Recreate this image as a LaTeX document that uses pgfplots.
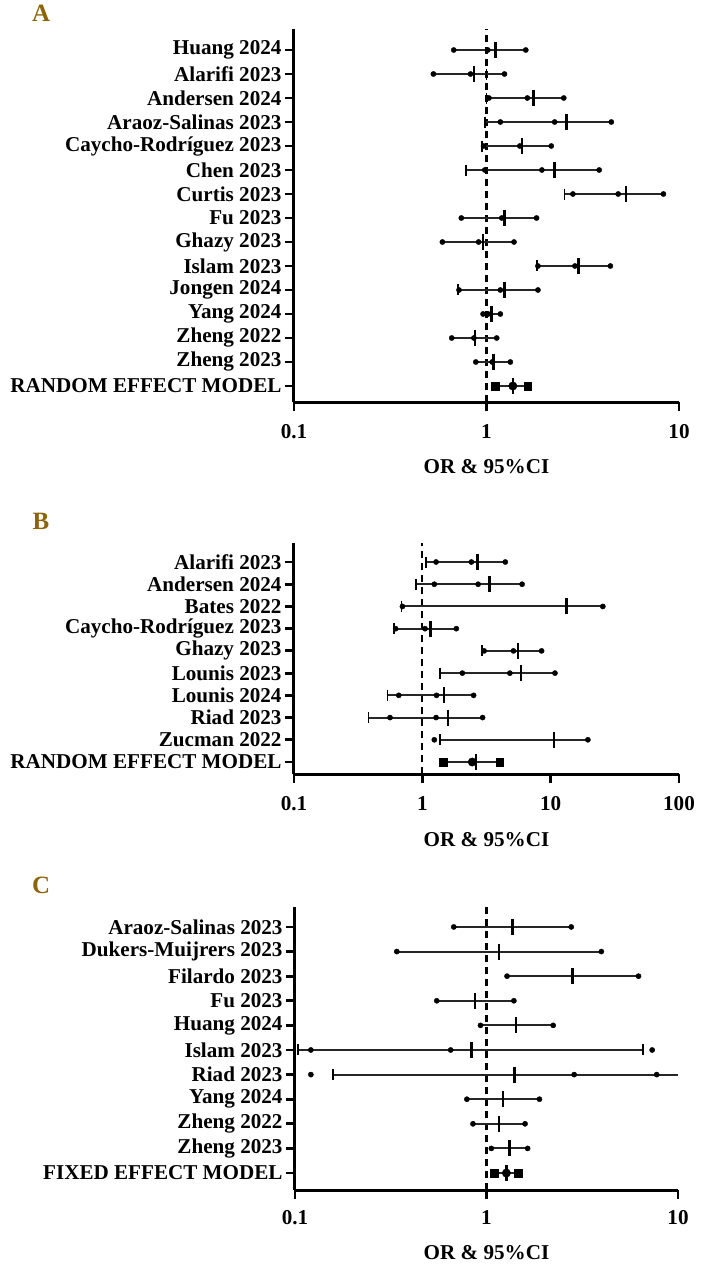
\documentclass[border=0pt]{standalone}
\usepackage{fontspec}
\setmainfont{Liberation Serif}
\usepackage{pgfplots}
\usepackage{pgfplotstable}
\pgfplotsset{compat=1.18}
\definecolor{panel}{RGB}{139,101,8}

% y: row position (top row largest); L,R: line ends; d1,d2,d3: dots; bar: OR mark; cap, cap2: small end caps
\pgfplotstableread{
y  L     R     d1    d2    d3    bar   cap   cap2
15 0.676 1.60  0.676 1.016 1.60  1.115 nan   nan
14 0.53  1.24  0.53  0.826 1.24  0.863 1.0   nan
13 1.0   2.52  1.03  1.63  2.52  1.75  1.0   nan
12 0.98  4.45  1.18  2.26  4.45  2.61  0.98  nan
11 0.95  2.17  0.965 1.49  2.17  1.53  0.95  nan
10 0.78  3.85  0.98  1.94  3.85  2.26  0.78  nan
9  2.54  8.3   2.81  4.83  8.3   5.32  2.54  nan
8  0.74  1.82  0.74  1.2   1.82  1.24  nan   nan
7  0.59  1.39  0.59  0.91  1.39  0.96  nan   nan
6  1.83  4.4   1.85  2.88  4.4   3.01  1.83  nan
5  0.71  1.85  0.72  1.18  1.85  1.24  0.71  nan
4  0.96  1.18  0.96  1.02  1.18  1.06  nan   nan
3  0.66  1.13  0.66  0.86  1.13  0.87  nan   nan
2  0.88  1.33  0.88  1.07  1.33  1.085 nan   nan
1  1.11  1.64  nan   1.37  nan   1.37  nan   nan
}\tabA

\pgfplotstableread{
y  L     R     d1    d2    d3    bar   cap   cap2
10 1.07  4.43  1.28  2.41  4.43  2.68  1.07  nan
9  0.89  5.99  1.24  2.72  5.99  3.33  0.89  nan
8  0.69  25.5  0.70  nan   25.5  13.3  0.69  nan
7  0.60  1.84  0.62  1.05  1.84  1.16  0.60  nan
6  2.9   8.5   3.03  5.13  8.5   5.57  2.9   nan
5  1.38  10.8  2.05  4.81  10.8  5.89  1.38  nan
4  0.535 2.51  0.655 1.29  2.51  1.48  0.535 nan
3  0.38  2.95  0.56  1.28  2.95  1.58  0.38  nan
2  1.38  19.5  1.24  nan   19.5  10.6  1.38  nan
1  1.45  4.0   nan   2.45  nan   2.63  nan   nan
}\tabB

\pgfplotstableread{
y  L     R     d1    d2    d3    bar   cap   cap2
11 0.675 2.77  0.675 nan   2.77  1.37  nan   nan
10 0.34  3.98  0.34  nan   3.98  1.16  nan   nan
9  1.28  6.22  1.28  nan   6.22  2.82  nan   nan
8  0.55  1.39  0.55  nan   1.39  0.87  nan   nan
7  0.93  2.23  0.93  nan   2.23  1.43  nan   nan
6  0.104 6.57  0.121 0.65  7.33  0.835 0.104 6.57
5  0.158 10    0.121 2.87  7.74  1.40  0.158 nan
4  0.79  1.89  0.79  nan   1.89  1.22  nan   nan
3  0.85  1.59  0.85  nan   1.59  1.16  nan   nan
2  1.06  1.64  1.06  nan   1.64  1.32  nan   nan
1  1.10  1.46  nan   1.27  nan   1.27  nan   nan
}\tabC

\newcommand\lblfont{\bfseries\fontsize{21.2}{24}\selectfont}

\newcommand\forestdata[1]{%
  \addplot[draw=none, mark=none, forget plot,
    error bars/x dir=both, error bars/x explicit, error bars/error mark=none,
    error bars/error bar style={draw=black!85, line width=2bp, solid}]
    table[x=bar, y=y, x error plus expr=\thisrow{R}-\thisrow{bar}, x error minus expr=\thisrow{bar}-\thisrow{L}] {#1};
  \addplot[only marks, mark=*, mark size=2.6bp, black] table[x=d1, y=y] {#1};
  \addplot[only marks, mark=*, mark size=2.6bp, black] table[x=d2, y=y] {#1};
  \addplot[only marks, mark=*, mark size=2.6bp, black] table[x=d3, y=y] {#1};
  \addplot[only marks, mark=|, mark size=8bp, black, mark options={line width=2.5bp}] table[x=bar, y=y] {#1};
  \addplot[only marks, mark=|, mark size=5.5bp, black, mark options={line width=1.7bp}] table[x=cap, y=y] {#1};
  \addplot[only marks, mark=|, mark size=5.5bp, black, mark options={line width=1.7bp}] table[x=cap2, y=y] {#1};
}

\begin{document}
\begin{tikzpicture}
\path[use as bounding box] (0,0) rectangle (710bp,-1274bp);

% ---------------- Panel A ----------------
\node[text=panel, font=\bfseries\fontsize{25}{25}\selectfont] at (41bp,-13bp) {A};
\begin{axis}[xmode=log, scale only axis, clip=false,
  axis x line*=bottom, axis y line*=left,
  x axis line style={-}, y axis line style={-},
  axis line style={line width=3bp, black},
  tick style={line width=2.8bp, black},
  tick align=outside, major tick length=9bp,
  xminorticks=false, yminorticks=false,
  xticklabel style={font=\lblfont, yshift=-10bp},
  yticklabel style={font=\lblfont},
  xlabel={OR \& 95\%CI},
  xlabel style={font=\lblfont, at={(axis description cs:0.5,0)}, anchor=center, yshift=-65bp},
  at={(294bp,-402bp)}, anchor=south west,
  width=385bp, height=373bp, xmin=0.1, xmax=10, ymin=0.333, ymax=15.875,
  xtick={0.1,1,10}, xticklabels={0.1,1,10},
  ytick={1,...,15},
  yticklabels={RANDOM EFFECT MODEL, Zheng 2023, Zheng 2022, Yang 2024, Jongen 2024, Islam 2023, Ghazy 2023, Fu 2023, Curtis 2023, Chen 2023, Caycho-Rodríguez 2023, Araoz-Salinas 2023, Andersen 2024, Alarifi 2023, Huang 2024}]
  \addplot[black, line width=2.3bp, dash pattern=on 7bp off 5bp] coordinates {(1,0.333) (1,15.875)};
  \forestdata{\tabA}
  \addplot[only marks, mark=square*, mark size=3.8bp, black] coordinates {(1.11,1) (1.64,1)};
  \addplot[only marks, mark=*, mark size=4.2bp, black] coordinates {(1.37,1)};
\end{axis}

% ---------------- Panel B ----------------
\node[text=panel, font=\bfseries\fontsize{25}{25}\selectfont] at (41bp,-521bp) {B};
\begin{axis}[xmode=log, scale only axis, clip=false,
  axis x line*=bottom, axis y line*=left,
  x axis line style={-}, y axis line style={-},
  axis line style={line width=3bp, black},
  tick style={line width=2.8bp, black},
  tick align=outside, major tick length=9bp,
  xminorticks=false, yminorticks=false,
  xticklabel style={font=\lblfont, yshift=-10bp},
  yticklabel style={font=\lblfont},
  xlabel={OR \& 95\%CI},
  xlabel style={font=\lblfont, at={(axis description cs:0.5,0)}, anchor=center, yshift=-66bp},
  at={(294bp,-774bp)}, anchor=south west,
  width=385bp, height=231bp, xmin=0.1, xmax=100, ymin=0.46, ymax=10.855,
  xtick={0.1,1,10,100}, xticklabels={0.1,1,10,100},
  ytick={1,...,10},
  yticklabels={RANDOM EFFECT MODEL, Zucman 2022, Riad 2023, Lounis 2024, Lounis 2023, Ghazy 2023, Caycho-Rodríguez 2023, Bates 2022, Andersen 2024, Alarifi 2023}]
  \addplot[black, line width=2.3bp, dash pattern=on 7bp off 5bp] coordinates {(1,0.46) (1,10.855)};
  \forestdata{\tabB}
  \addplot[only marks, mark=square*, mark size=3.8bp, black] coordinates {(1.45,1) (4.0,1)};
  \addplot[only marks, mark=*, mark size=4.2bp, black] coordinates {(2.45,1)};
\end{axis}

% ---------------- Panel C ----------------
\node[text=panel, font=\bfseries\fontsize{25}{25}\selectfont] at (41bp,-885bp) {C};
\begin{axis}[xmode=log, scale only axis, clip=false,
  axis x line*=bottom, axis y line*=left,
  x axis line style={-}, y axis line style={-},
  axis line style={line width=3bp, black},
  tick style={line width=2.8bp, black},
  tick align=outside, major tick length=9bp,
  xminorticks=false, yminorticks=false,
  xticklabel style={font=\lblfont, yshift=-8bp},
  yticklabel style={font=\lblfont},
  xlabel={OR \& 95\%CI},
  xlabel style={font=\lblfont, at={(axis description cs:0.5,0)}, anchor=center, yshift=-63bp},
  at={(295bp,-1190bp)}, anchor=south west,
  width=383bp, height=283bp, xmin=0.1, xmax=10, ymin=0.31, ymax=11.81,
  xtick={0.1,1,10}, xticklabels={0.1,1,10},
  ytick={1,...,11},
  yticklabels={FIXED EFFECT MODEL, Zheng 2023, Zheng 2022, Yang 2024, Riad 2023, Islam 2023, Huang 2024, Fu 2023, Filardo 2023, Dukers-Muijrers 2023, Araoz-Salinas 2023}]
  \addplot[black, line width=2.3bp, dash pattern=on 7bp off 5bp] coordinates {(1,0.31) (1,11.81)};
  \forestdata{\tabC}
  \addplot[only marks, mark=square*, mark size=3.8bp, black] coordinates {(1.10,1) (1.46,1)};
  \addplot[only marks, mark=*, mark size=4.2bp, black] coordinates {(1.27,1)};
\end{axis}
\end{tikzpicture}
\end{document}
